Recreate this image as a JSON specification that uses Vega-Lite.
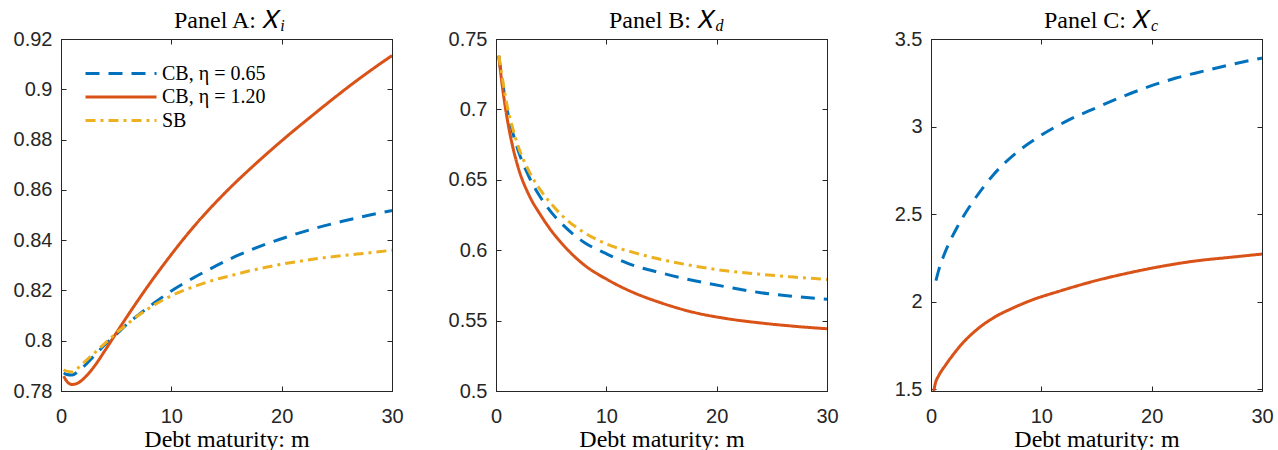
{
  "$schema": "https://vega.github.io/schema/vega-lite/v6.json",
  "padding": {"left": 12, "top": 8, "right": 0, "bottom": 0},
  "spacing": 104,
  "bounds": "flush",
  "datasets": {
    "a": [
      {"m": 0.25, "v": 0.7872, "s": "CB, η = 0.65"}, {"m": 0.5, "v": 0.7866, "s": "CB, η = 0.65"}, {"m": 1, "v": 0.7864, "s": "CB, η = 0.65"}, {"m": 1.5, "v": 0.7876, "s": "CB, η = 0.65"}, {"m": 2, "v": 0.7895, "s": "CB, η = 0.65"}, {"m": 3, "v": 0.794, "s": "CB, η = 0.65"}, {"m": 4, "v": 0.7985, "s": "CB, η = 0.65"}, {"m": 5, "v": 0.8025, "s": "CB, η = 0.65"}, {"m": 6, "v": 0.8066, "s": "CB, η = 0.65"}, {"m": 7, "v": 0.8102, "s": "CB, η = 0.65"}, {"m": 8.5, "v": 0.8152, "s": "CB, η = 0.65"}, {"m": 10, "v": 0.8198, "s": "CB, η = 0.65"}, {"m": 11, "v": 0.8225, "s": "CB, η = 0.65"}, {"m": 12, "v": 0.825, "s": "CB, η = 0.65"}, {"m": 13.4, "v": 0.8283, "s": "CB, η = 0.65"}, {"m": 15.8, "v": 0.8335, "s": "CB, η = 0.65"}, {"m": 18.2, "v": 0.8378, "s": "CB, η = 0.65"}, {"m": 20.7, "v": 0.8416, "s": "CB, η = 0.65"}, {"m": 23.1, "v": 0.8448, "s": "CB, η = 0.65"}, {"m": 25.5, "v": 0.8475, "s": "CB, η = 0.65"}, {"m": 28, "v": 0.85, "s": "CB, η = 0.65"}, {"m": 30, "v": 0.8518, "s": "CB, η = 0.65"},
      {"m": 0.25, "v": 0.7859, "s": "CB, η = 1.20"}, {"m": 0.5, "v": 0.784, "s": "CB, η = 1.20"}, {"m": 1, "v": 0.7826, "s": "CB, η = 1.20"}, {"m": 1.5, "v": 0.7831, "s": "CB, η = 1.20"}, {"m": 2, "v": 0.7847, "s": "CB, η = 1.20"}, {"m": 3, "v": 0.7897, "s": "CB, η = 1.20"}, {"m": 4, "v": 0.7962, "s": "CB, η = 1.20"}, {"m": 5, "v": 0.803, "s": "CB, η = 1.20"}, {"m": 6, "v": 0.8097, "s": "CB, η = 1.20"}, {"m": 7, "v": 0.8162, "s": "CB, η = 1.20"}, {"m": 8, "v": 0.8225, "s": "CB, η = 1.20"}, {"m": 9, "v": 0.8285, "s": "CB, η = 1.20"}, {"m": 10, "v": 0.8343, "s": "CB, η = 1.20"}, {"m": 11, "v": 0.8399, "s": "CB, η = 1.20"}, {"m": 12, "v": 0.8452, "s": "CB, η = 1.20"}, {"m": 13, "v": 0.8502, "s": "CB, η = 1.20"}, {"m": 14, "v": 0.8549, "s": "CB, η = 1.20"}, {"m": 15, "v": 0.8594, "s": "CB, η = 1.20"}, {"m": 16, "v": 0.8637, "s": "CB, η = 1.20"}, {"m": 17, "v": 0.8678, "s": "CB, η = 1.20"}, {"m": 18, "v": 0.8718, "s": "CB, η = 1.20"}, {"m": 19, "v": 0.8757, "s": "CB, η = 1.20"}, {"m": 20, "v": 0.8795, "s": "CB, η = 1.20"}, {"m": 21, "v": 0.8832, "s": "CB, η = 1.20"}, {"m": 22, "v": 0.8868, "s": "CB, η = 1.20"}, {"m": 24, "v": 0.8939, "s": "CB, η = 1.20"}, {"m": 26, "v": 0.9008, "s": "CB, η = 1.20"}, {"m": 28, "v": 0.9073, "s": "CB, η = 1.20"}, {"m": 30, "v": 0.9134, "s": "CB, η = 1.20"},
      {"m": 0.25, "v": 0.7885, "s": "SB"}, {"m": 0.5, "v": 0.7879, "s": "SB"}, {"m": 1, "v": 0.7876, "s": "SB"}, {"m": 1.5, "v": 0.789, "s": "SB"}, {"m": 2, "v": 0.791, "s": "SB"}, {"m": 3, "v": 0.795, "s": "SB"}, {"m": 4, "v": 0.799, "s": "SB"}, {"m": 5, "v": 0.803, "s": "SB"}, {"m": 6, "v": 0.8066, "s": "SB"}, {"m": 7, "v": 0.81, "s": "SB"}, {"m": 8, "v": 0.813, "s": "SB"}, {"m": 9.5, "v": 0.8168, "s": "SB"}, {"m": 11, "v": 0.8198, "s": "SB"}, {"m": 12.5, "v": 0.8222, "s": "SB"}, {"m": 14, "v": 0.8243, "s": "SB"}, {"m": 15.5, "v": 0.826, "s": "SB"}, {"m": 17, "v": 0.8277, "s": "SB"}, {"m": 18.6, "v": 0.8292, "s": "SB"}, {"m": 20.1, "v": 0.8305, "s": "SB"}, {"m": 21.6, "v": 0.8316, "s": "SB"}, {"m": 23.1, "v": 0.8326, "s": "SB"}, {"m": 24.6, "v": 0.8334, "s": "SB"}, {"m": 26, "v": 0.8341, "s": "SB"}, {"m": 27.6, "v": 0.8348, "s": "SB"}, {"m": 30, "v": 0.836, "s": "SB"}
    ],
    "b": [
      {"m": 0.25, "v": 0.738, "s": "CB, η = 0.65"}, {"m": 0.5, "v": 0.724, "s": "CB, η = 0.65"}, {"m": 1, "v": 0.7, "s": "CB, η = 0.65"}, {"m": 1.5, "v": 0.684, "s": "CB, η = 0.65"}, {"m": 2, "v": 0.671, "s": "CB, η = 0.65"}, {"m": 3, "v": 0.652, "s": "CB, η = 0.65"}, {"m": 4, "v": 0.638, "s": "CB, η = 0.65"}, {"m": 5, "v": 0.627, "s": "CB, η = 0.65"}, {"m": 6, "v": 0.6185, "s": "CB, η = 0.65"}, {"m": 8, "v": 0.6055, "s": "CB, η = 0.65"}, {"m": 10, "v": 0.5975, "s": "CB, η = 0.65"}, {"m": 12, "v": 0.5905, "s": "CB, η = 0.65"}, {"m": 15, "v": 0.5838, "s": "CB, η = 0.65"}, {"m": 18, "v": 0.5783, "s": "CB, η = 0.65"}, {"m": 21, "v": 0.5738, "s": "CB, η = 0.65"}, {"m": 24, "v": 0.5698, "s": "CB, η = 0.65"}, {"m": 27, "v": 0.5672, "s": "CB, η = 0.65"}, {"m": 30, "v": 0.5652, "s": "CB, η = 0.65"},
      {"m": 0.25, "v": 0.738, "s": "CB, η = 1.20"}, {"m": 0.5, "v": 0.721, "s": "CB, η = 1.20"}, {"m": 1, "v": 0.694, "s": "CB, η = 1.20"}, {"m": 1.5, "v": 0.674, "s": "CB, η = 1.20"}, {"m": 2, "v": 0.659, "s": "CB, η = 1.20"}, {"m": 3, "v": 0.639, "s": "CB, η = 1.20"}, {"m": 4, "v": 0.6255, "s": "CB, η = 1.20"}, {"m": 5, "v": 0.614, "s": "CB, η = 1.20"}, {"m": 6, "v": 0.6045, "s": "CB, η = 1.20"}, {"m": 8, "v": 0.5895, "s": "CB, η = 1.20"}, {"m": 10, "v": 0.5795, "s": "CB, η = 1.20"}, {"m": 12, "v": 0.5715, "s": "CB, η = 1.20"}, {"m": 15, "v": 0.5625, "s": "CB, η = 1.20"}, {"m": 18, "v": 0.5557, "s": "CB, η = 1.20"}, {"m": 21, "v": 0.5513, "s": "CB, η = 1.20"}, {"m": 24, "v": 0.5483, "s": "CB, η = 1.20"}, {"m": 27, "v": 0.546, "s": "CB, η = 1.20"}, {"m": 30, "v": 0.5442, "s": "CB, η = 1.20"},
      {"m": 0.25, "v": 0.7385, "s": "SB"}, {"m": 0.5, "v": 0.726, "s": "SB"}, {"m": 1, "v": 0.703, "s": "SB"}, {"m": 1.5, "v": 0.687, "s": "SB"}, {"m": 2, "v": 0.674, "s": "SB"}, {"m": 3, "v": 0.656, "s": "SB"}, {"m": 4, "v": 0.643, "s": "SB"}, {"m": 5, "v": 0.633, "s": "SB"}, {"m": 6, "v": 0.6245, "s": "SB"}, {"m": 8, "v": 0.6125, "s": "SB"}, {"m": 10, "v": 0.6045, "s": "SB"}, {"m": 12.5, "v": 0.5983, "s": "SB"}, {"m": 15, "v": 0.5934, "s": "SB"}, {"m": 18, "v": 0.5887, "s": "SB"}, {"m": 21, "v": 0.5852, "s": "SB"}, {"m": 24, "v": 0.5829, "s": "SB"}, {"m": 27, "v": 0.5809, "s": "SB"}, {"m": 30, "v": 0.5792, "s": "SB"}
    ],
    "c": [
      {"m": 0.45, "v": 2.12, "s": "CB, η = 0.65"}, {"m": 0.7, "v": 2.18, "s": "CB, η = 0.65"}, {"m": 1.15, "v": 2.262, "s": "CB, η = 0.65"}, {"m": 1.76, "v": 2.35, "s": "CB, η = 0.65"}, {"m": 2.36, "v": 2.424, "s": "CB, η = 0.65"}, {"m": 2.97, "v": 2.491, "s": "CB, η = 0.65"}, {"m": 3.73, "v": 2.565, "s": "CB, η = 0.65"}, {"m": 4.7, "v": 2.65, "s": "CB, η = 0.65"}, {"m": 5.7, "v": 2.728, "s": "CB, η = 0.65"}, {"m": 7.67, "v": 2.847, "s": "CB, η = 0.65"}, {"m": 9.8, "v": 2.943, "s": "CB, η = 0.65"}, {"m": 12.5, "v": 3.038, "s": "CB, η = 0.65"}, {"m": 14.9, "v": 3.105, "s": "CB, η = 0.65"}, {"m": 17.4, "v": 3.172, "s": "CB, η = 0.65"}, {"m": 19.8, "v": 3.229, "s": "CB, η = 0.65"}, {"m": 22.2, "v": 3.277, "s": "CB, η = 0.65"}, {"m": 24.6, "v": 3.315, "s": "CB, η = 0.65"}, {"m": 27.1, "v": 3.353, "s": "CB, η = 0.65"}, {"m": 30, "v": 3.391, "s": "CB, η = 0.65"},
      {"m": 0.25, "v": 1.49, "s": "CB, η = 1.20"}, {"m": 0.4, "v": 1.535, "s": "CB, η = 1.20"}, {"m": 0.7, "v": 1.578, "s": "CB, η = 1.20"}, {"m": 1.31, "v": 1.637, "s": "CB, η = 1.20"}, {"m": 2, "v": 1.697, "s": "CB, η = 1.20"}, {"m": 2.82, "v": 1.76, "s": "CB, η = 1.20"}, {"m": 4.34, "v": 1.85, "s": "CB, η = 1.20"}, {"m": 5.85, "v": 1.915, "s": "CB, η = 1.20"}, {"m": 7.36, "v": 1.962, "s": "CB, η = 1.20"}, {"m": 8.88, "v": 2.003, "s": "CB, η = 1.20"}, {"m": 11.9, "v": 2.065, "s": "CB, η = 1.20"}, {"m": 14.94, "v": 2.12, "s": "CB, η = 1.20"}, {"m": 17.97, "v": 2.165, "s": "CB, η = 1.20"}, {"m": 21, "v": 2.203, "s": "CB, η = 1.20"}, {"m": 24.03, "v": 2.233, "s": "CB, η = 1.20"}, {"m": 27.06, "v": 2.253, "s": "CB, η = 1.20"}, {"m": 30, "v": 2.272, "s": "CB, η = 1.20"}
    ]
  },
  "hconcat": [
    {
      "width": 331, "height": 352,
      "title": {"text": "Panel A: 𝑋", "subtitle": "\u200b\u2003\u2003\u2003\u2003\u2003\u2003\u2003i"},
      "data": {"name": "a"},
      "layer": [
        {
          "mark": {"type": "line", "strokeWidth": 3, "clip": true, "interpolate": "monotone"},
          "encoding": {
            "x": {"field": "m", "type": "quantitative", "scale": {"domain": [0, 30], "nice": false}, "axis": {"orient": "bottom", "values": [0, 10, 20, 30], "title": "Debt maturity: m"}},
            "y": {"field": "v", "type": "quantitative", "scale": {"domain": [0.78, 0.92], "nice": false}, "axis": {"orient": "left", "values": [0.78, 0.8, 0.82, 0.84, 0.86, 0.88, 0.9, 0.92], "format": "~g", "title": null}},
            "color": {"field": "s", "type": "nominal", "scale": {"domain": ["CB, η = 0.65", "CB, η = 1.20", "SB"], "range": ["#0072BD", "#D95319", "#EDB120"]},
              "legend": {"orient": "top-left", "title": null, "symbolType": "stroke", "symbolSize": 5041, "symbolStrokeWidth": 3, "clipHeight": 23, "labelFont": "Liberation Serif", "labelFontSize": 20, "labelColor": "black", "offset": 23, "padding": 0, "rowPadding": 0.5, "labelOffset": 4}},
            "strokeDash": {"field": "s", "type": "nominal", "scale": {"domain": ["CB, η = 0.65", "CB, η = 1.20", "SB"], "range": [[14, 9], [1, 0], [10, 5, 3, 5]]},
              "legend": {"orient": "top-left", "title": null, "symbolType": "stroke", "symbolSize": 5041, "symbolStrokeWidth": 3, "clipHeight": 23, "labelFont": "Liberation Serif", "labelFontSize": 20, "labelColor": "black", "offset": 23, "padding": 0, "rowPadding": 0.5, "labelOffset": 4}}
          }
        },
        {
          "mark": {"type": "line", "opacity": 0},
          "encoding": {
            "x": {"field": "m", "type": "quantitative", "axis": {"orient": "top", "values": [0, 10, 20, 30], "labels": false, "title": null}},
            "y": {"field": "v", "type": "quantitative", "axis": {"orient": "right", "values": [0.78, 0.8, 0.82, 0.84, 0.86, 0.88, 0.9, 0.92], "labels": false, "title": null}}
          }
        }
      ],
      "resolve": {"axis": {"x": "independent", "y": "independent"}}
    },
    {
      "width": 331, "height": 352,
      "title": {"text": "Panel B: 𝑋", "subtitle": "\u200b\u2003\u2003\u2003\u2003\u2003\u2003\u2003\u2005d"},
      "data": {"name": "b"},
      "layer": [
        {
          "mark": {"type": "line", "strokeWidth": 3, "clip": true, "interpolate": "monotone"},
          "encoding": {
            "x": {"field": "m", "type": "quantitative", "scale": {"domain": [0, 30], "nice": false}, "axis": {"orient": "bottom", "values": [0, 10, 20, 30], "title": "Debt maturity: m"}},
            "y": {"field": "v", "type": "quantitative", "scale": {"domain": [0.5, 0.75], "nice": false}, "axis": {"orient": "left", "values": [0.5, 0.55, 0.6, 0.65, 0.7, 0.75], "format": "~g", "title": null}},
            "color": {"field": "s", "type": "nominal", "scale": {"domain": ["CB, η = 0.65", "CB, η = 1.20", "SB"], "range": ["#0072BD", "#D95319", "#EDB120"]}, "legend": null},
            "strokeDash": {"field": "s", "type": "nominal", "scale": {"domain": ["CB, η = 0.65", "CB, η = 1.20", "SB"], "range": [[14, 9], [1, 0], [10, 5, 3, 5]]}, "legend": null}
          }
        },
        {
          "mark": {"type": "line", "opacity": 0},
          "encoding": {
            "x": {"field": "m", "type": "quantitative", "axis": {"orient": "top", "values": [0, 10, 20, 30], "labels": false, "title": null}},
            "y": {"field": "v", "type": "quantitative", "axis": {"orient": "right", "values": [0.5, 0.55, 0.6, 0.65, 0.7, 0.75], "labels": false, "title": null}}
          }
        }
      ],
      "resolve": {"axis": {"x": "independent", "y": "independent"}}
    },
    {
      "width": 331, "height": 352,
      "title": {"text": "Panel C: 𝑋", "subtitle": "\u200b\u2003\u2003\u2003\u2003\u2003\u2003\u2003\u2005c"},
      "data": {"name": "c"},
      "layer": [
        {
          "mark": {"type": "line", "strokeWidth": 3, "clip": true, "interpolate": "monotone"},
          "encoding": {
            "x": {"field": "m", "type": "quantitative", "scale": {"domain": [0, 30], "nice": false}, "axis": {"orient": "bottom", "values": [0, 10, 20, 30], "title": "Debt maturity: m"}},
            "y": {"field": "v", "type": "quantitative", "scale": {"domain": [1.49, 3.5], "nice": false}, "axis": {"orient": "left", "values": [1.5, 2, 2.5, 3, 3.5], "format": "~g", "title": null}},
            "color": {"field": "s", "type": "nominal", "scale": {"domain": ["CB, η = 0.65", "CB, η = 1.20", "SB"], "range": ["#0072BD", "#D95319", "#EDB120"]}, "legend": null},
            "strokeDash": {"field": "s", "type": "nominal", "scale": {"domain": ["CB, η = 0.65", "CB, η = 1.20", "SB"], "range": [[14, 9], [1, 0], [10, 5, 3, 5]]}, "legend": null}
          }
        },
        {
          "mark": {"type": "line", "opacity": 0},
          "encoding": {
            "x": {"field": "m", "type": "quantitative", "axis": {"orient": "top", "values": [0, 10, 20, 30], "labels": false, "title": null}},
            "y": {"field": "v", "type": "quantitative", "axis": {"orient": "right", "values": [1.5, 2, 2.5, 3, 3.5], "labels": false, "title": null}}
          }
        }
      ],
      "resolve": {"axis": {"x": "independent", "y": "independent"}}
    }
  ],
  "resolve": {"scale": {"color": "independent", "strokeDash": "independent"}, "legend": {"color": "independent", "strokeDash": "independent"}},
  "config": {
    "view": {"stroke": "#262626", "strokeWidth": 1},
    "axis": {"labelFont": "Liberation Sans", "labelFontSize": 20, "labelColor": "#262626", "tickColor": "#262626", "domainColor": "#262626", "tickSize": -5, "grid": false, "labelFlush": false, "labelOverlap": false, "titleFont": "Liberation Serif", "titleFontSize": 24, "titleFontWeight": "normal", "titleColor": "black"},
    "axisX": {"labelPadding": 20, "titlePadding": 1},
    "axisY": {"labelPadding": 14},
    "title": {"font": "Liberation Serif", "fontSize": 24, "fontWeight": "normal", "color": "black", "anchor": "middle", "frame": "group", "subtitleFont": "Liberation Serif", "subtitleFontSize": 16, "subtitleFontStyle": "italic", "subtitleColor": "black", "subtitlePadding": -15, "offset": -5}
  }
}
